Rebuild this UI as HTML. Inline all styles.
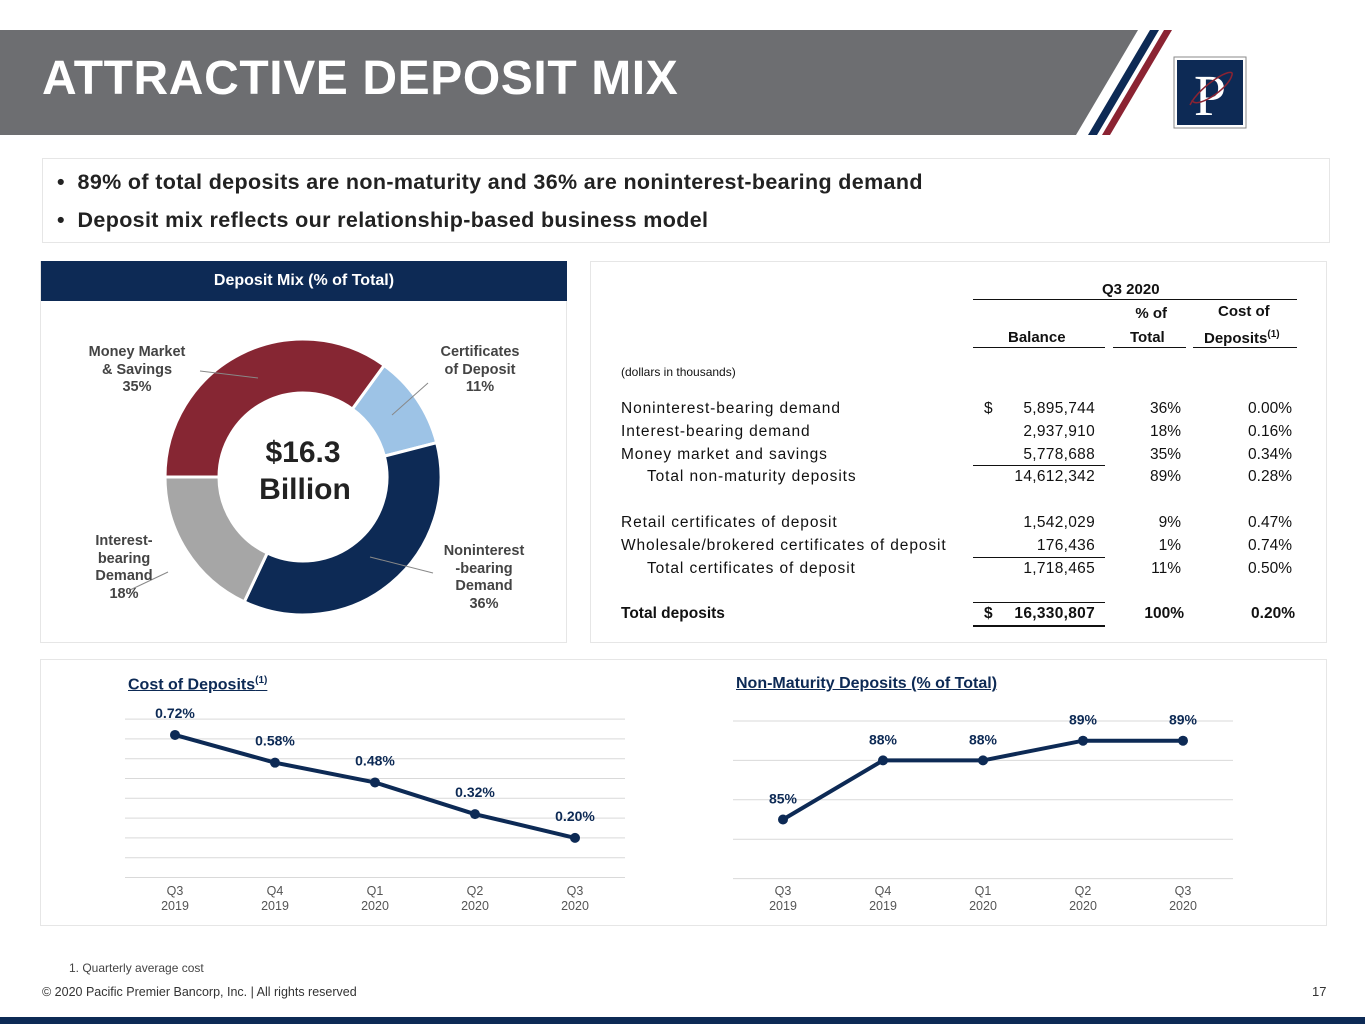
<!DOCTYPE html>
<html><head><meta charset="utf-8"><style>
body{margin:0;width:1365px;height:1024px;position:relative;background:#fff;font-family:"Liberation Sans",sans-serif;overflow:hidden}
.abs{position:absolute}
.t{position:absolute;white-space:nowrap;font-size:15.5px;color:#111}
.b{font-weight:bold}
.r{text-align:right}
</style></head><body>
<svg class="abs" style="left:0;top:0" width="1365" height="140">
<polygon points="0,30 1138,30 1076,135 0,135" fill="#6d6e71"/>
<polygon points="1142,30 1152,30 1090,135 1080,135" fill="#fff"/>
<polygon points="1150,30 1160,30 1098,135 1088,135" fill="#0d2a55"/>
<polygon points="1159,30 1168,30 1106,135 1097,135" fill="#fff"/>
<polygon points="1164,30 1172,30 1110,135 1102,135" fill="#8b2332"/>
<rect x="1174" y="57" width="72" height="71" fill="#fff" stroke="#8a8a8a" stroke-width="1"/>
<rect x="1177" y="60" width="66" height="65" fill="#0d2a55"/>
<text x="1210" y="115" font-family="Liberation Serif" font-size="58" fill="#fff" text-anchor="middle">P</text>
<path d="M1190,105 C1200,85 1235,65 1232,75 C1228,90 1195,110 1192,100" stroke="#8b2332" stroke-width="1.5" fill="none"/>
</svg>
<div class="t b" style="left:42px;top:51px;font-size:48px;letter-spacing:0.6px;color:#fff">ATTRACTIVE DEPOSIT MIX</div>

<div class="abs" style="left:42px;top:158px;width:1286px;height:83px;border:1px solid #e6e6e6"></div>
<div class="t b" style="left:57px;top:170px;font-size:21.5px;letter-spacing:0.35px;color:#222">•&nbsp;&nbsp;89% of total deposits are non-maturity and 36% are noninterest-bearing demand</div>
<div class="t b" style="left:57px;top:208px;font-size:21.5px;letter-spacing:0.35px;color:#222">•&nbsp;&nbsp;Deposit mix reflects our relationship-based business model</div>

<div class="abs" style="left:40px;top:261px;width:525px;height:380px;border:1px solid #e6e6e6"></div>
<div class="abs b" style="left:41px;top:261px;width:526px;height:40px;background:#0d2a55;color:#fff;font-size:16px;text-align:center;line-height:40px">Deposit Mix (% of Total)</div>
<svg id="donut" class="abs" style="left:0;top:0" width="600" height="660"></svg>
<div class="t b" style="left:258px;top:436px;font-size:30px;color:#222;width:90px;text-align:center">$16.3</div>
<div class="t b" style="left:250px;top:473px;font-size:30px;color:#222;width:110px;text-align:center">Billion</div>
<div class="t b" style="left:77px;top:344px;font-size:14.5px;color:#444;text-align:center;line-height:17.5px;width:120px">Money Market<br>&amp; Savings<br>35%</div>
<div class="t b" style="left:420px;top:344px;font-size:14.5px;color:#444;text-align:center;line-height:17.5px;width:120px">Certificates<br>of Deposit<br>11%</div>
<div class="t b" style="left:64px;top:533px;font-size:14.5px;color:#444;text-align:center;line-height:17.5px;width:120px">Interest-<br>bearing<br>Demand<br>18%</div>
<div class="t b" style="left:424px;top:543px;font-size:14.5px;color:#444;text-align:center;line-height:17.5px;width:120px">Noninterest<br>-bearing<br>Demand<br>36%</div>

<div class="abs" style="left:590px;top:261px;width:735px;height:380px;border:1px solid #e6e6e6"></div>
<div>
<div class="t b" style="left:1102px;top:281px;font-size:15px">Q3 2020</div>
<div class="abs" style="left:973px;top:299px;width:324px;border-top:1.5px solid #111"></div>
<div class="t b r" style="left:1113px;top:305px;width:54px;font-size:15px">% of</div>
<div class="t b" style="left:1218px;top:303px;font-size:15px">Cost of</div>
<div class="t b" style="left:1008px;top:329px;font-size:15px">Balance</div>
<div class="t b" style="left:1130px;top:329px;font-size:15px">Total</div>
<div class="t b" style="left:1204px;top:329px;font-size:15px">Deposits<sup style="font-size:10px">(1)</sup></div>
<div class="abs" style="left:973px;top:347px;width:132px;border-top:1.5px solid #111"></div>
<div class="abs" style="left:1113px;top:347px;width:73px;border-top:1.5px solid #111"></div>
<div class="abs" style="left:1193px;top:347px;width:104px;border-top:1.5px solid #111"></div>
<div class="t" style="left:621px;top:365px;font-size:12px">(dollars in thousands)</div>
</div>
<div id="rows"></div>

<div class="abs" style="left:40px;top:659px;width:1285px;height:265px;border:1px solid #e6e6e6"></div>
<div class="t b" style="left:128px;top:675px;font-size:16px;color:#0d2a55;text-decoration:underline">Cost of Deposits<sup style="font-size:10px">(1)</sup></div>
<div class="t b" style="left:736px;top:675px;font-size:16px;color:#0d2a55;text-decoration:underline">Non-Maturity Deposits (% of Total)</div>
<svg id="lines" class="abs" style="left:0;top:0" width="1365" height="930"></svg>

<div class="t" style="left:69px;top:961px;font-size:12px;color:#444">1. Quarterly average cost</div>
<div class="t" style="left:42px;top:985px;font-size:12.5px;color:#333">© 2020 Pacific Premier Bancorp, Inc. | All rights reserved</div>
<div class="t" style="left:1312px;top:984px;font-size:13px;color:#333">17</div>
<div class="abs" style="left:0;top:1017px;width:1365px;height:7px;background:#0d2a55"></div>

<script>
const sliceNames=["Certificates of Deposit","Noninterest-bearing Demand","Interest-bearing Demand","Money Market & Savings"];
const sliceValues=[11,36,18,35];
const sliceColors=["#9dc3e6","#0d2a55","#a6a6a6","#862633"];
const quarters=["Q3|2019","Q4|2019","Q1|2020","Q2|2020","Q3|2020"];
const costValues=[0.72,0.58,0.48,0.32,0.20];
const costLabels=["0.72%","0.58%","0.48%","0.32%","0.20%"];
const nmValues=[85,88,88,89,89];
const nmLabels=["85%","88%","88%","89%","89%"];
const rowLabels=["Noninterest-bearing demand","Interest-bearing demand","Money market and savings","Total non-maturity deposits","","Retail certificates of deposit","Wholesale/brokered certificates of deposit","Total certificates of deposit","","Total deposits"];
const rowBalance=["5,895,744","2,937,910","5,778,688","14,612,342","","1,542,029","176,436","1,718,465","","16,330,807"];
const rowPct=["36%","18%","35%","89%","","9%","1%","11%","","100%"];
const rowCost=["0.00%","0.16%","0.34%","0.28%","","0.47%","0.74%","0.50%","","0.20%"];

const NS="http://www.w3.org/2000/svg";
function mk(svg,tag,attrs){const e=document.createElementNS(NS,tag);for(const k in attrs)e.setAttribute(k,attrs[k]);svg.appendChild(e);return e;}

const d=document.getElementById('donut');
const cx=303,cy=477,R=138,r=84;
let total=sliceValues.reduce((a,b)=>a+b,0),ang=36;
function pt(a,rad){const t=(a-90)*Math.PI/180;return [cx+rad*Math.cos(t),cy+rad*Math.sin(t)];}
sliceValues.forEach((v,i)=>{
 const a0=ang,a1=ang+v/total*360;ang=a1;
 const [x0,y0]=pt(a0,R),[x1,y1]=pt(a1,R),[x2,y2]=pt(a1,r),[x3,y3]=pt(a0,r);
 const lg=(a1-a0)>180?1:0;
 const p=mk(d,'path',{d:`M${x0},${y0}A${R},${R} 0 ${lg} 1 ${x1},${y1}L${x2},${y2}A${r},${r} 0 ${lg} 0 ${x3},${y3}Z`,fill:sliceColors[i],stroke:'#fff','stroke-width':3});
 
 
});
[[200,371,258,378],[428,383,392,415],[130,590,168,572],[433,573,370,557]].forEach(l=>{
 const e=mk(d,'line',{x1:l[0],y1:l[1],x2:l[2],y2:l[3],stroke:'#888','stroke-width':1});
 
 
});

const rows=document.getElementById('rows');
const rowY=[400,423,446,468,0,514,537,560,0,605];
let h='';
rowLabels.forEach((l,i)=>{
 if(!l)return;const y=rowY[i];const bold=i===9?'b ':'';const ind=(i===3||i===7)?26:0;
 const ls=i===9?0:0.9;
 h+=`<div class="t ${bold}" style="left:${621+ind}px;top:${y}px;letter-spacing:${ls}px">${l}</div>`;
 h+=`<div class="t ${bold}r" style="left:990px;top:${y}px;width:105px;letter-spacing:0.3px">${rowBalance[i]}</div>`;
 h+=`<div class="t ${bold}r" style="left:1110px;top:${y}px;width:${i===9?74:71}px">${rowPct[i]}</div>`;
 h+=`<div class="t ${bold}r" style="left:1200px;top:${y}px;width:${i===9?95:92}px">${rowCost[i]}</div>`;
});
h+=`<div class="t" style="left:984px;top:400px">$</div><div class="t b" style="left:984px;top:605px">$</div>`;
h+=`<div class="abs" style="left:973px;top:465px;width:132px;border-top:1px solid #111"></div>`;
h+=`<div class="abs" style="left:973px;top:557px;width:132px;border-top:1px solid #111"></div>`;
h+=`<div class="abs" style="left:973px;top:602px;width:132px;border-top:1px solid #111"></div>`;
h+=`<div class="abs" style="left:973px;top:625px;width:132px;border-top:2px solid #111"></div>`;
rows.innerHTML=h;

const L=document.getElementById('lines');
function chart(x0,step,yOf,ticks,gx0,gx1,vals,labels,lblDy,name){
 ticks.forEach(t=>{const e=mk(L,'line',{x1:gx0,x2:gx1,y1:yOf(t),y2:yOf(t),stroke:'#d9d9d9','stroke-width':1});
  });
 const xs=vals.map((v,i)=>x0+i*step);
 const pl=mk(L,'polyline',{points:vals.map((v,i)=>xs[i]+','+yOf(v)).join(' '),fill:'none',stroke:'#0d2a55','stroke-width':4});
 
 vals.forEach((v,i)=>{
  const c=mk(L,'circle',{cx:xs[i],cy:yOf(v),r:5,fill:'#0d2a55'});
  
  const t=mk(L,'text',{x:xs[i],y:yOf(v)+lblDy,'font-size':14,'font-weight':'bold',fill:'#0d2a55','text-anchor':'middle','font-family':'Liberation Sans'});
  t.textContent=labels[i];
  quarters[i].split('|').forEach((s,j)=>{const q=mk(L,'text',{x:xs[i],y:895+j*15,'font-size':12.5,fill:'#555','text-anchor':'middle','font-family':'Liberation Sans'});
   q.textContent=s;});
 });
}
chart(175,100,v=>877.5-v*198,[0,0.1,0.2,0.3,0.4,0.5,0.6,0.7,0.8],125,625,costValues,costLabels,-17,'cost');
chart(783,100,v=>918-(v-80)*19.7,[82,84,86,88,90],733,1233,nmValues,nmLabels,-16,'nm');
</script>
</body></html>
